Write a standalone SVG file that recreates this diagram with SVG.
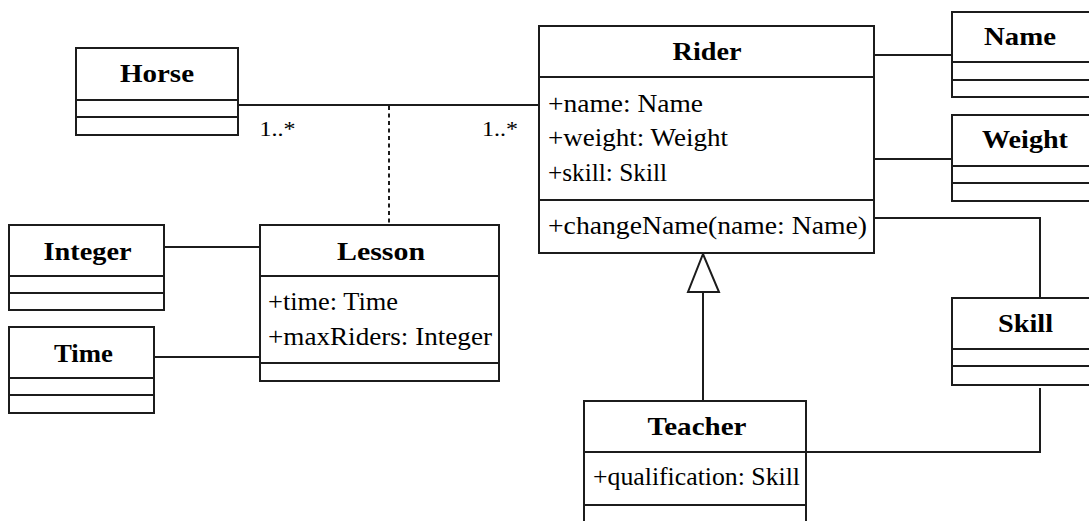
<svg xmlns="http://www.w3.org/2000/svg" width="1089" height="521" viewBox="0 0 1089 521">
  <style>
    .box { fill: #ffffff; stroke: #1c1c1c; stroke-width: 2; }
    .div { stroke: #1c1c1c; stroke-width: 2; }
    .title { font-family: "Liberation Serif", "Times New Roman", serif; font-weight: bold; font-size: 26px; fill: #000000; text-anchor: middle; }
    .attr { font-family: "Liberation Serif", "Times New Roman", serif; font-size: 25px; fill: #000000; }
    .mult { font-family: "Liberation Serif", "Times New Roman", serif; font-size: 22px; fill: #000000; }
    .link { fill: none; stroke: #1c1c1c; stroke-width: 2; }
    .dashed { stroke-dasharray: 4 3.5; }
  </style>
  <rect width="1089" height="521" fill="#ffffff"/>

  <!-- associations, association class link and generalization -->
  <g id="connectors">
    <line class="link" x1="238" y1="105" x2="539" y2="105"/>
    <line class="link dashed" x1="389" y1="106" x2="389" y2="225"/>
    <line class="link" x1="164" y1="247" x2="260" y2="247"/>
    <line class="link" x1="154" y1="357" x2="260" y2="357"/>
    <line class="link" x1="874" y1="55" x2="952" y2="55"/>
    <line class="link" x1="874" y1="159" x2="952" y2="159"/>
    <polyline class="link" points="874,218 1040,218 1040,298"/>
    <polyline class="link" points="1040,388 1040,452 806,452"/>
    <line class="link" x1="703" y1="292" x2="703" y2="401"/>
    <polygon class="link" points="703,254 688,292 719,292" fill="#ffffff"/>
    <text class="mult" x="259.5" y="136" textLength="36" lengthAdjust="spacingAndGlyphs">1..*</text>
    <text class="mult" x="482" y="136" textLength="36" lengthAdjust="spacingAndGlyphs">1..*</text>
  </g>

  <g id="horse">
    <rect class="box" x="76" y="48" width="162" height="87"/>
    <line class="div" x1="76" y1="100" x2="238" y2="100"/>
    <line class="div" x1="76" y1="117" x2="238" y2="117"/>
    <text class="title" x="157" y="82" textLength="74" lengthAdjust="spacingAndGlyphs">Horse</text>
  </g>

  <g id="rider">
    <rect class="box" x="539" y="26" width="335" height="227"/>
    <line class="div" x1="539" y1="77" x2="874" y2="77"/>
    <line class="div" x1="539" y1="200" x2="874" y2="200"/>
    <text class="title" x="707" y="60" textLength="69" lengthAdjust="spacingAndGlyphs">Rider</text>
    <text class="attr" x="548" y="112" textLength="155" lengthAdjust="spacingAndGlyphs">+name: Name</text>
    <text class="attr" x="548" y="146" textLength="180" lengthAdjust="spacingAndGlyphs">+weight: Weight</text>
    <text class="attr" x="548" y="181" textLength="119" lengthAdjust="spacingAndGlyphs">+skill: Skill</text>
    <text class="attr" x="548" y="234" textLength="319" lengthAdjust="spacingAndGlyphs">+changeName(name: Name)</text>
  </g>

  <g id="name">
    <rect class="box" x="952" y="12" width="150" height="85"/>
    <line class="div" x1="952" y1="62" x2="1102" y2="62"/>
    <line class="div" x1="952" y1="80" x2="1102" y2="80"/>
    <text class="title" x="1020" y="45" textLength="72" lengthAdjust="spacingAndGlyphs">Name</text>
  </g>

  <g id="weight">
    <rect class="box" x="952" y="115" width="150" height="86"/>
    <line class="div" x1="952" y1="166" x2="1102" y2="166"/>
    <line class="div" x1="952" y1="183" x2="1102" y2="183"/>
    <text class="title" x="1025" y="148" textLength="86" lengthAdjust="spacingAndGlyphs">Weight</text>
  </g>

  <g id="skill">
    <rect class="box" x="952" y="298" width="150" height="87"/>
    <line class="div" x1="952" y1="349" x2="1102" y2="349"/>
    <line class="div" x1="952" y1="366" x2="1102" y2="366"/>
    <text class="title" x="1025.5" y="332" textLength="55" lengthAdjust="spacingAndGlyphs">Skill</text>
  </g>

  <g id="teacher">
    <rect class="box" x="584" y="401" width="222" height="140"/>
    <line class="div" x1="584" y1="452" x2="806" y2="452"/>
    <line class="div" x1="584" y1="505" x2="806" y2="505"/>
    <text class="title" x="697" y="435" textLength="99" lengthAdjust="spacingAndGlyphs">Teacher</text>
    <text class="attr" x="593" y="485" textLength="207" lengthAdjust="spacingAndGlyphs">+qualification: Skill</text>
  </g>

  <g id="lesson">
    <rect class="box" x="260" y="225" width="239" height="156"/>
    <line class="div" x1="260" y1="276" x2="499" y2="276"/>
    <line class="div" x1="260" y1="363" x2="499" y2="363"/>
    <text class="title" x="381" y="260" textLength="88" lengthAdjust="spacingAndGlyphs">Lesson</text>
    <text class="attr" x="268" y="310" textLength="130" lengthAdjust="spacingAndGlyphs">+time: Time</text>
    <text class="attr" x="268" y="345" textLength="224" lengthAdjust="spacingAndGlyphs">+maxRiders: Integer</text>
  </g>

  <g id="integer">
    <rect class="box" x="9" y="225" width="155" height="85"/>
    <line class="div" x1="9" y1="276" x2="164" y2="276"/>
    <line class="div" x1="9" y1="293" x2="164" y2="293"/>
    <text class="title" x="87.5" y="260" textLength="88" lengthAdjust="spacingAndGlyphs">Integer</text>
  </g>

  <g id="time">
    <rect class="box" x="9" y="327" width="145" height="86"/>
    <line class="div" x1="9" y1="378" x2="154" y2="378"/>
    <line class="div" x1="9" y1="395" x2="154" y2="395"/>
    <text class="title" x="83.5" y="362" textLength="59" lengthAdjust="spacingAndGlyphs">Time</text>
  </g>
</svg>
